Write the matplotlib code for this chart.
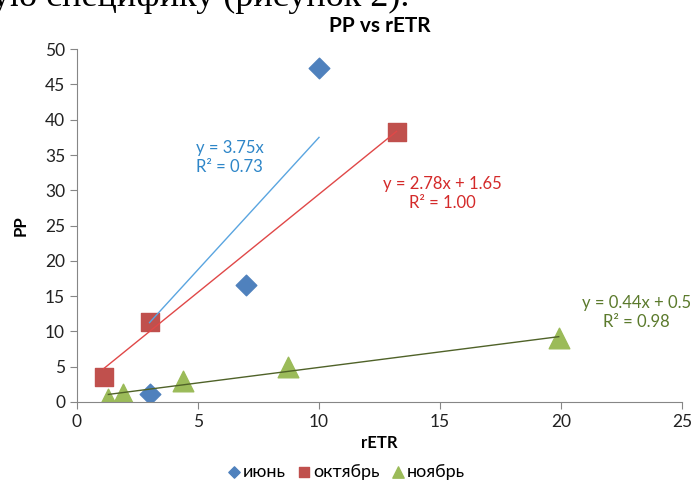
import numpy as np
import matplotlib.pyplot as plt

plt.rcParams['font.family'] = ['Lato', 'DejaVu Sans']

# data
jun_x = [3.0, 7.0, 10.0]
jun_y = [1.1, 16.6, 47.4]
oct_x = [1.1, 3.0, 13.2]
oct_y = [3.6, 11.3, 38.2]
nov_x = [1.3, 1.9, 4.4, 8.7, 19.9]
nov_y = [0.4, 1.1, 3.0, 5.0, 9.0]

# trendline coefficients (slope, intercept) as printed on the chart
jun_fit = (3.75, 0.0)
oct_fit = (2.78, 1.65)
nov_fit = (0.44, 0.5)

labels = ['июнь', 'октябрь', 'ноябрь']

c_jun, c_oct, c_nov = '#4F81BD', '#C0504D', '#9BBB59'
gray = '#868686'

fig = plt.figure(figsize=(6.99, 4.82), dpi=100)
ax = fig.add_axes([0.110, 0.166, 0.866, 0.732])

ax.scatter(jun_x, jun_y, marker='D', s=110, color=c_jun, label=labels[0], zorder=2)
ax.scatter(oct_x, oct_y, marker='s', s=180, color=c_oct, label=labels[1], zorder=2)
ax.scatter(nov_x, nov_y, marker='^', s=220, color=c_nov, label=labels[2], zorder=2)

def trend(xs, fit, col):
    xx = np.array([min(xs), max(xs)])
    ax.plot(xx, fit[0] * xx + fit[1], color=col, lw=1.0, zorder=3)

trend(jun_x, jun_fit, '#5AA5E0')
trend(oct_x, oct_fit, '#E04848')
trend(nov_x, nov_fit, '#4F6228')

ax.text(4.9, 34.6, 'y = 3.75x\nR² = 0.73', color='#2E86C8', fontsize=12,
        ha='left', va='center', linespacing=1.25)
ax.text(15.1, 29.5, 'y = 2.78x + 1.65\nR² = 1.00', color='#D42A2A', fontsize=12,
        ha='center', va='center', linespacing=1.25)
ax.text(23.1, 12.7, 'y = 0.44x + 0.5\nR² = 0.98', color='#5B7A2C', fontsize=12,
        ha='center', va='center', linespacing=1.25, clip_on=False)

ax.set_xlim(0, 25)
ax.set_ylim(0, 50)
ax.set_xticks(np.arange(0, 26, 5))
ax.set_yticks(np.arange(0, 51, 5))
for s in ['top', 'right']:
    ax.spines[s].set_visible(False)
for s in ['left', 'bottom']:
    ax.spines[s].set_color(gray)
ax.tick_params(colors=gray, labelcolor='#222222', labelsize=12.5, length=5, direction='out')
ax.tick_params(axis='x', pad=4)
ax.set_xlabel('rETR', fontsize=12, fontweight='bold', labelpad=3)
ax.set_ylabel('PP', fontsize=12, fontweight='bold', labelpad=12)
ax.set_title('PP vs rETR', fontsize=15, fontweight='bold', pad=12)

fig.legend(loc='lower center', bbox_to_anchor=(0.495, -0.03), ncol=3, frameon=False,
           fontsize=13, handletextpad=0.1, columnspacing=0.6, handlelength=0.8,
           markerscale=0.55)

# cut-off line of document text above the chart
fig.text(-0.012, 1 - 6 / 482, 'ую специфику (рисунок 2).', fontsize=26,
         family='Liberation Serif', ha='left', va='baseline')

fig.savefig('out.png', dpi=100)
